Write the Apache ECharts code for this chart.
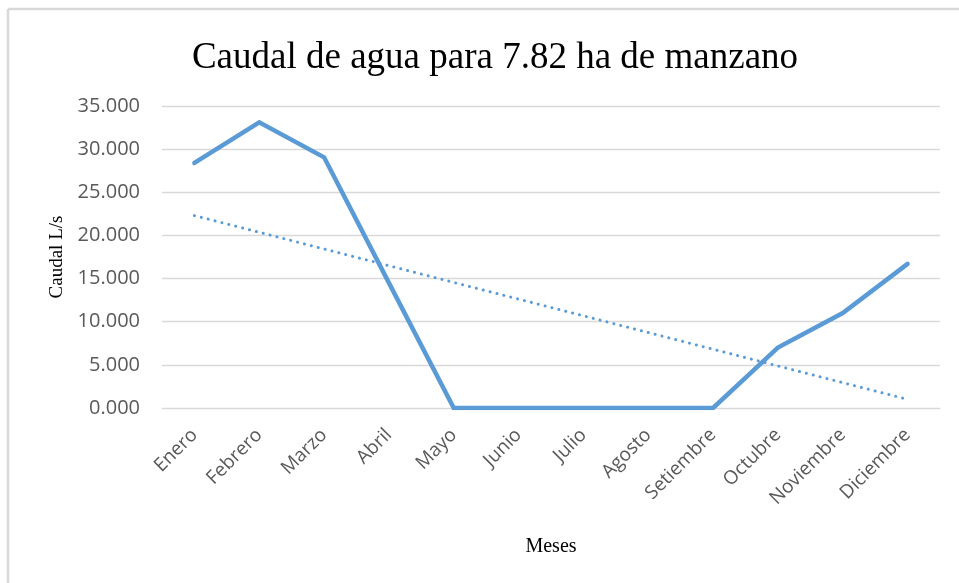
<!DOCTYPE html>
<html>
<head>
<meta charset="utf-8">
<script src="https://cdn.jsdelivr.net/npm/echarts@6/dist/echarts.min.js"></script>
<style>
  html, body { margin: 0; padding: 0; background: #fff; }
  #chart { width: 959px; height: 583px; }
</style>
</head>
<body>
<div id="chart"></div>
<script>
// datos
const meses = ['Enero', 'Febrero', 'Marzo', 'Abril', 'Mayo', 'Junio', 'Julio', 'Agosto', 'Setiembre', 'Octubre', 'Noviembre', 'Diciembre'];
const caudal = [28.4, 33.1, 29.05, 14.5, 0, 0, 0, 0, 0, 7.0, 11.0, 16.7];
// línea de tendencia: sólo los extremos
const tendencia = [22.3, null, null, null, null, null, null, null, null, null, null, 1.0];
const yTicks = { min: 0, max: 35, interval: 5 };

const chart = echarts.init(document.getElementById('chart'));

const grayText = '#595959';
const gridColor = '#d9d9d9';
const blue = '#5b9bd5';

chart.setOption({
  backgroundColor: '#fff',
  animation: false,
  title: {
    text: 'Caudal de agua para 7.82 ha de manzano',
    left: 490, top: 35,
    textAlign: 'center',
    textStyle: { fontFamily: 'Liberation Serif', fontWeight: 'normal', fontSize: 37, color: '#000' }
  },
  graphic: [
    { type: 'line', shape: { x1: 8, y1: 9, x2: 8, y2: 583 }, style: { stroke: gridColor, lineWidth: 2.5 } },
    { type: 'line', shape: { x1: 8, y1: 9, x2: 959, y2: 9 }, style: { stroke: gridColor, lineWidth: 2.5 } }
  ],
  grid: { left: 162, right: 19, top: 106, bottom: 175 },
  xAxis: {
    type: 'category',
    data: meses,
    boundaryGap: true,
    name: 'Meses',
    nameLocation: 'middle',
    nameGap: 129,
    nameTextStyle: { fontFamily: 'Liberation Serif', fontSize: 20, color: '#000' },
    axisLine: { show: true, lineStyle: { color: gridColor, width: 1 } },
    axisTick: { show: false },
    axisLabel: { rotate: 45, margin: 24, fontFamily: 'Open Sans', fontSize: 19, color: grayText, interval: 0 }
  },
  yAxis: {
    type: 'value',
    min: yTicks.min, max: yTicks.max, interval: yTicks.interval,
    name: 'Caudal L/s',
    nameLocation: 'middle',
    nameGap: 95,
    nameTextStyle: { fontFamily: 'Liberation Serif', fontSize: 19, color: '#000' },
    axisLine: { show: false },
    axisTick: { show: false },
    splitLine: { lineStyle: { color: gridColor, width: 1.3 } },
    axisLabel: {
      margin: 22,
      fontFamily: 'Open Sans', fontSize: 20, color: grayText,
      formatter: v => v.toFixed(3)
    }
  },
  series: [
    {
      name: 'Caudal',
      type: 'line',
      data: caudal,
      symbol: 'none',
      lineStyle: { color: blue, width: 4.5, cap: 'round', join: 'miter' }
    },
    {
      name: 'Tendencia',
      type: 'line',
      data: tendencia,
      connectNulls: true,
      symbol: 'none',
      lineStyle: { color: blue, width: 3, type: [0.1, 7], cap: 'round' }
    }
  ]
});
</script>
</body>
</html>
